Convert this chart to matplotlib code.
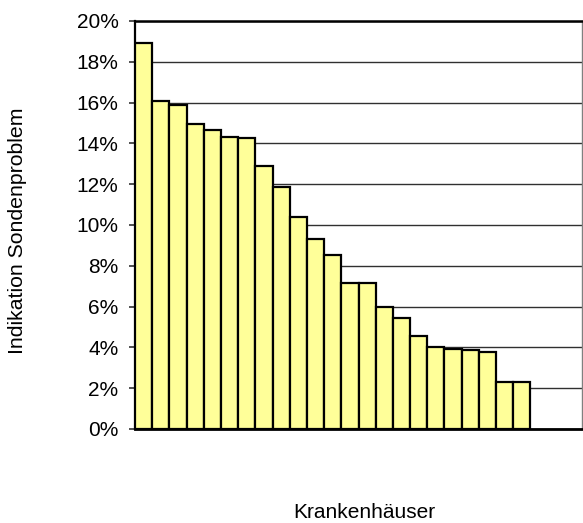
import matplotlib
matplotlib.use("Agg")
import matplotlib.pyplot as plt
import numpy as np
from matplotlib.ticker import FuncFormatter

plt.rcParams['font.family'] = ['Liberation Sans', 'DejaVu Sans']

values = [18.9, 16.1, 15.9, 14.93, 14.65, 14.3, 14.28, 12.89, 11.88, 10.39,
          9.31, 8.55, 7.14, 7.14, 5.98, 5.44, 4.58, 4.02, 3.94, 3.86,
          3.77, 2.30, 2.30]
n_slots = 26
yticks = [0, 2, 4, 6, 8, 10, 12, 14, 16, 18, 20]
ylabel = "Indikation Sondenproblem"
xlabel = "Krankenhäuser"

W, H = 583, 523
fig = plt.figure(figsize=(W/100, H/100), dpi=100)
ax = fig.add_axes([135/W, (H-429)/H, (582-135)/W, (429-21)/H])

x = np.arange(len(values))
ax.bar(x, values, width=1.0, align='edge', color='#FFFF99', edgecolor='black',
       linewidth=1.6, zorder=3)

ax.set_xlim(0, n_slots)
ax.set_ylim(0, 20)
ax.set_yticks(yticks)
ax.yaxis.set_major_formatter(FuncFormatter(lambda v, p: f"{int(round(v))}%"))
ax.set_xticks([])
ax.grid(axis='y', color='#303030', linewidth=1.0, zorder=0)
ax.tick_params(axis='y', direction='out', length=4.3, width=1.2, color='#333333',
               labelsize=15, pad=7.5)

ax.spines['left'].set_linewidth(1.6)
ax.spines['left'].set_color('black')
ax.spines['bottom'].set_linewidth(2.0)
ax.spines['bottom'].set_color('black')
ax.spines['top'].set_linewidth(1.8)
ax.spines['top'].set_color('black')
ax.spines['right'].set_linewidth(1.0)
ax.spines['right'].set_color('#808080')

fig.text(18/W, 1 - 231/H, ylabel, rotation=90, ha='center', va='center', fontsize=15.3)
fig.text(364/W, 1 - 518.5/H, xlabel, ha='center', va='baseline', fontsize=15)

fig.savefig("out.png", dpi=100)
